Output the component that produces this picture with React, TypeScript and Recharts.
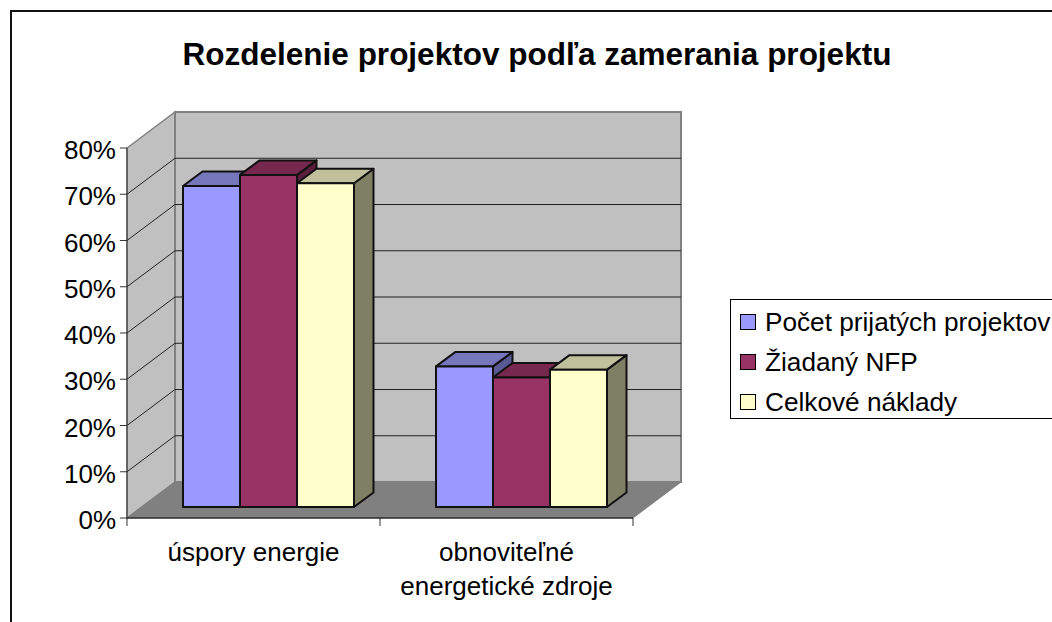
import React from "react";
import { BarChart, Bar, XAxis, YAxis, CartesianGrid, Legend, ReferenceArea } from "recharts";

const categories = ["úspory energie", "obnoviteľné\nenergetické zdroje"];
const pocetProjektov = [69.4, 30.4];
const ziadanyNfp = [71.8, 28];
const celkoveNaklady = [70, 29.7];
const percentTicks = [0, 10, 20, 30, 40, 50, 60, 70, 80];
const innerGridValues = [10, 20, 30, 40, 50, 60, 70];

const data = categories.map((name, i) => ({
  name,
  pocet: pocetProjektov[i],
  ziadany: ziadanyNfp[i],
  naklady: celkoveNaklady[i],
}));

// fake 3D: depth of the whole box, and of the bars that sit in the middle of it
const DEPTH_X = 48;
const DEPTH_Y = -36;
const BAR_SHIFT_X = 14.5;
const BAR_SHIFT_Y = -11;
const BAR_DEPTH_X = 19.5;
const BAR_DEPTH_Y = -14.5;

const FONT = "'Liberation Sans', Arial, sans-serif";

function makeBar(top: string, side: string) {
  return function Bar3D(props: any) {
    const { fill, width, height } = props;
    const x = props.x + BAR_SHIFT_X;
    const y = props.y + BAR_SHIFT_Y;
    const r = x + width;
    const b = y + height;
    return (
      <g stroke="#111" strokeWidth={2} strokeLinejoin="round">
        <polygon
          points={`${r},${y} ${r + BAR_DEPTH_X},${y + BAR_DEPTH_Y} ${r + BAR_DEPTH_X},${b + BAR_DEPTH_Y} ${r},${b}`}
          fill={side}
        />
        <polygon
          points={`${x},${y} ${x + BAR_DEPTH_X},${y + BAR_DEPTH_Y} ${r + BAR_DEPTH_X},${y + BAR_DEPTH_Y} ${r},${y}`}
          fill={top}
        />
        <rect x={x} y={y} width={width} height={height} fill={fill} />
      </g>
    );
  };
}

function Walls(props: any) {
  const { x, y, width, height } = props;
  const b = y + height;
  const r = x + width;
  return (
    <g>
      <polygon
        points={`${x},${b} ${x},${y} ${x + DEPTH_X},${y + DEPTH_Y} ${x + DEPTH_X},${b + DEPTH_Y}`}
        fill="#c0c0c0"
        stroke="#808080"
        strokeWidth={1.5}
      />
      <rect
        x={x + DEPTH_X}
        y={y + DEPTH_Y}
        width={width}
        height={height}
        fill="#c0c0c0"
        stroke="#808080"
        strokeWidth={2}
      />
      <polygon
        points={`${x},${b} ${x + DEPTH_X},${b + DEPTH_Y} ${r + DEPTH_X},${b + DEPTH_Y} ${r},${b}`}
        fill="#808080"
        stroke="#808080"
      />
      {/* ticks between categories, LibreOffice style */}
      {[0, 1, 2].map((i) => {
        const tx = x + (width / categories.length) * i;
        return <line key={i} x1={tx} y1={b} x2={tx} y2={b + 8} stroke="#333" strokeWidth={1} />;
      })}
    </g>
  );
}

function gridLine(props: any) {
  const { x1, x2, y1 } = props;
  return (
    <polyline
      key={y1}
      points={`${x1},${y1} ${x1 + DEPTH_X},${y1 + DEPTH_Y} ${x2 + DEPTH_X},${y1 + DEPTH_Y}`}
      fill="none"
      stroke="#222"
      strokeWidth={1}
    />
  );
}

function CategoryTick(props: any) {
  const { x, y, payload } = props;
  const lines = String(payload.value).split("\n");
  return (
    <text x={x} y={y} textAnchor="middle" fontFamily={FONT} fontSize={26} fill="#000">
      {lines.map((l, i) => (
        <tspan key={i} x={x} y={y + 35 + i * 34}>
          {l}
        </tspan>
      ))}
    </text>
  );
}

function LegendBox(props: any) {
  return (
    <div
      style={{
        width: 340,
        height: 120,
        boxSizing: "border-box",
        border: "1px solid #000",
        background: "#fff",
        fontFamily: FONT,
        fontSize: 26.2,
        paddingTop: 2,
      }}
    >
      {props.payload.map((p: any) => (
        <div key={p.value} style={{ height: 40, display: "flex", alignItems: "center", paddingLeft: 9 }}>
          <span
            style={{
              width: 16,
              height: 16,
              boxSizing: "border-box",
              background: p.color,
              border: "1px solid #000",
              marginRight: 9,
            }}
          />
          <span style={{ whiteSpace: "nowrap", color: "#000" }}>{p.value}</span>
        </div>
      ))}
    </div>
  );
}

export default function App() {
  return (
    <div
      style={{
        position: "absolute",
        left: 0,
        top: 0,
        width: 1052,
        height: 622,
        overflow: "hidden",
        background: "#fff",
      }}
    >
      <div
        style={{
          position: "absolute",
          left: 10,
          top: 10,
          width: 1100,
          height: 700,
          borderLeft: "2px solid #111",
          borderTop: "2px solid #111",
        }}
      />
      <div
        style={{
          position: "absolute",
          left: 0,
          top: 36,
          width: 1074,
          textAlign: "center",
          fontFamily: FONT,
          fontWeight: "bold",
          fontSize: 31.5,
          color: "#000",
        }}
      >
        Rozdelenie projektov podľa zamerania projektu
      </div>
      <BarChart
        width={1052}
        height={622}
        data={data}
        margin={{ top: 148, right: 419, bottom: 44, left: 67 }}
        barCategoryGap={41.5}
        barGap={0}
        style={{ position: "absolute", left: 0, top: 0 }}
      >
        <ReferenceArea y1={0} y2={80} shape={Walls} fill="none" stroke="none" zIndex={-200} />
        <CartesianGrid vertical={false} horizontal={gridLine} horizontalValues={innerGridValues} />
        <XAxis
          dataKey="name"
          height={60}
          interval={0}
          tick={CategoryTick}
          tickLine={false}
          axisLine={{ stroke: "#000", strokeWidth: 1 }}
        />
        <YAxis
          width={60}
          domain={[0, 80]}
          ticks={percentTicks}
          tickFormatter={(v: number) => `${v}%`}
          tickSize={7}
          tickMargin={4}
          interval={0}
          axisLine={{ stroke: "#333", strokeWidth: 1 }}
          tickLine={{ stroke: "#333", strokeWidth: 1 }}
          tick={{ fontFamily: FONT, fontSize: 26, fill: "#000", dy: 2 }}
        />
        <Legend
          layout="vertical"
          align="center"
          verticalAlign="middle"
          content={LegendBox}
          itemSorter={null}
          wrapperStyle={{ left: 730, top: 299, width: 340, height: 120, margin: 0 }}
        />
        <Bar
          dataKey="pocet"
          name="Počet prijatých projektov"
          fill="#9999ff"
          isAnimationActive={false}
          shape={makeBar("#7676bd", "#595993")}
        />
        <Bar
          dataKey="ziadany"
          name="Žiadaný NFP"
          fill="#993366"
          isAnimationActive={false}
          shape={makeBar("#76284f", "#5a1e3c")}
        />
        <Bar
          dataKey="naklady"
          name="Celkové náklady"
          fill="#ffffcc"
          isAnimationActive={false}
          shape={makeBar("#c0c09c", "#7f7f66")}
        />
      </BarChart>
    </div>
  );
}
